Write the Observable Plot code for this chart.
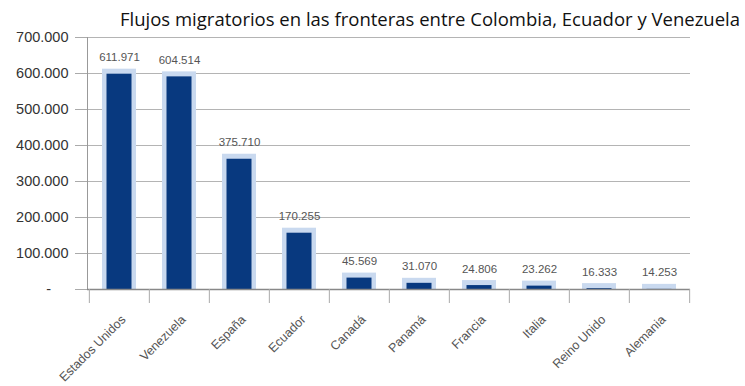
<!DOCTYPE html>
<html>
<head>
<meta charset="utf-8">
<script src="https://cdn.jsdelivr.net/npm/d3@7"></script>
<script src="https://cdn.jsdelivr.net/npm/@observablehq/plot@0.6"></script>
<style>
  body { margin: 0; background: #fff; }
  #title {
    height: 27px; white-space: nowrap;
    font-family: "Open Sans", sans-serif; font-size: 18.5px; line-height: 1;
    color: #111; position: relative;
  }
  #title span { position: absolute; left: 120px; top: 10px; }
</style>
</head>
<body>
<div id="title"><span>Flujos migratorios en las fronteras entre Colombia, Ecuador y Venezuela</span></div>
<div id="chart"></div>
<script>
const categories = ["Estados Unidos", "Venezuela", "España", "Ecuador", "Canadá", "Panamá", "Francia", "Italia", "Reino Unido", "Alemania"];
const values = [611971, 604514, 375710, 170255, 45569, 31070, 24806, 23262, 16333, 14253];
const yTicks = [0, 100000, 200000, 300000, 400000, 500000, 600000, 700000];

const data = categories.map((c, i) => ({c, v: values[i]}));
const loc = d3.formatLocale({decimal: ",", thousands: ".", grouping: [3], currency: ["", ""]});
const fmt = loc.format(",");
const yFmt = d => d === 0 ? "-\u2003\u2009" : fmt(d);

const W = 745, H = 359, mL = 87, mR = 55, mT = 10, mB = 97;
const bw = (W - mL - mR) / categories.length;

const chart = Plot.plot({
  width: W, height: H,
  marginLeft: mL, marginRight: mR, marginTop: mT, marginBottom: mB,
  style: {fontFamily: "Liberation Sans, Arial, sans-serif", background: "#fff", overflow: "visible"},
  x: {domain: categories, padding: 0, label: null},
  y: {domain: [0, 700000], label: null},
  marks: [
    Plot.ruleY(yTicks.slice(1), {stroke: "#b4b4b4", strokeWidth: 1.2}),
    Plot.axisY({ticks: yTicks, tickFormat: yFmt, tickSize: 12, tickPadding: 7, fontSize: 14.5, color: "#333", stroke: "#aaa", label: null}),
    Plot.barY(data, {x: "c", y: "v", fill: "#c9d9ef", insetLeft: 13, insetRight: 13}),
    Plot.barY(data, {x: "c", y: "v", fill: "#08397f", insetLeft: 17.5, insetRight: 17.5, insetTop: 5}),
    Plot.text(data, {x: "c", y: "v", text: d => fmt(d.v), lineAnchor: "bottom", dy: -8, fontSize: 11.5, fill: "#555"}),
    Plot.frame({anchor: "left", stroke: "#999"}),
    Plot.ruleY([0], {stroke: "#888", strokeWidth: 1.3}),
    Plot.ruleX(categories, {x: d => d, dx: -bw / 2, y1: 0, y2: 0, insetBottom: -14, stroke: "#aaa"}),
    Plot.ruleX(categories.slice(-1), {x: d => d, dx: bw / 2, y1: 0, y2: 0, insetBottom: -14, stroke: "#aaa"}),
    Plot.axisX({tickSize: 0, tickPadding: 28, tickRotate: -45, fontSize: 12.5, color: "#555", dx: 4, label: null})
  ]
});
document.getElementById("chart").append(chart);
</script>
</body>
</html>
